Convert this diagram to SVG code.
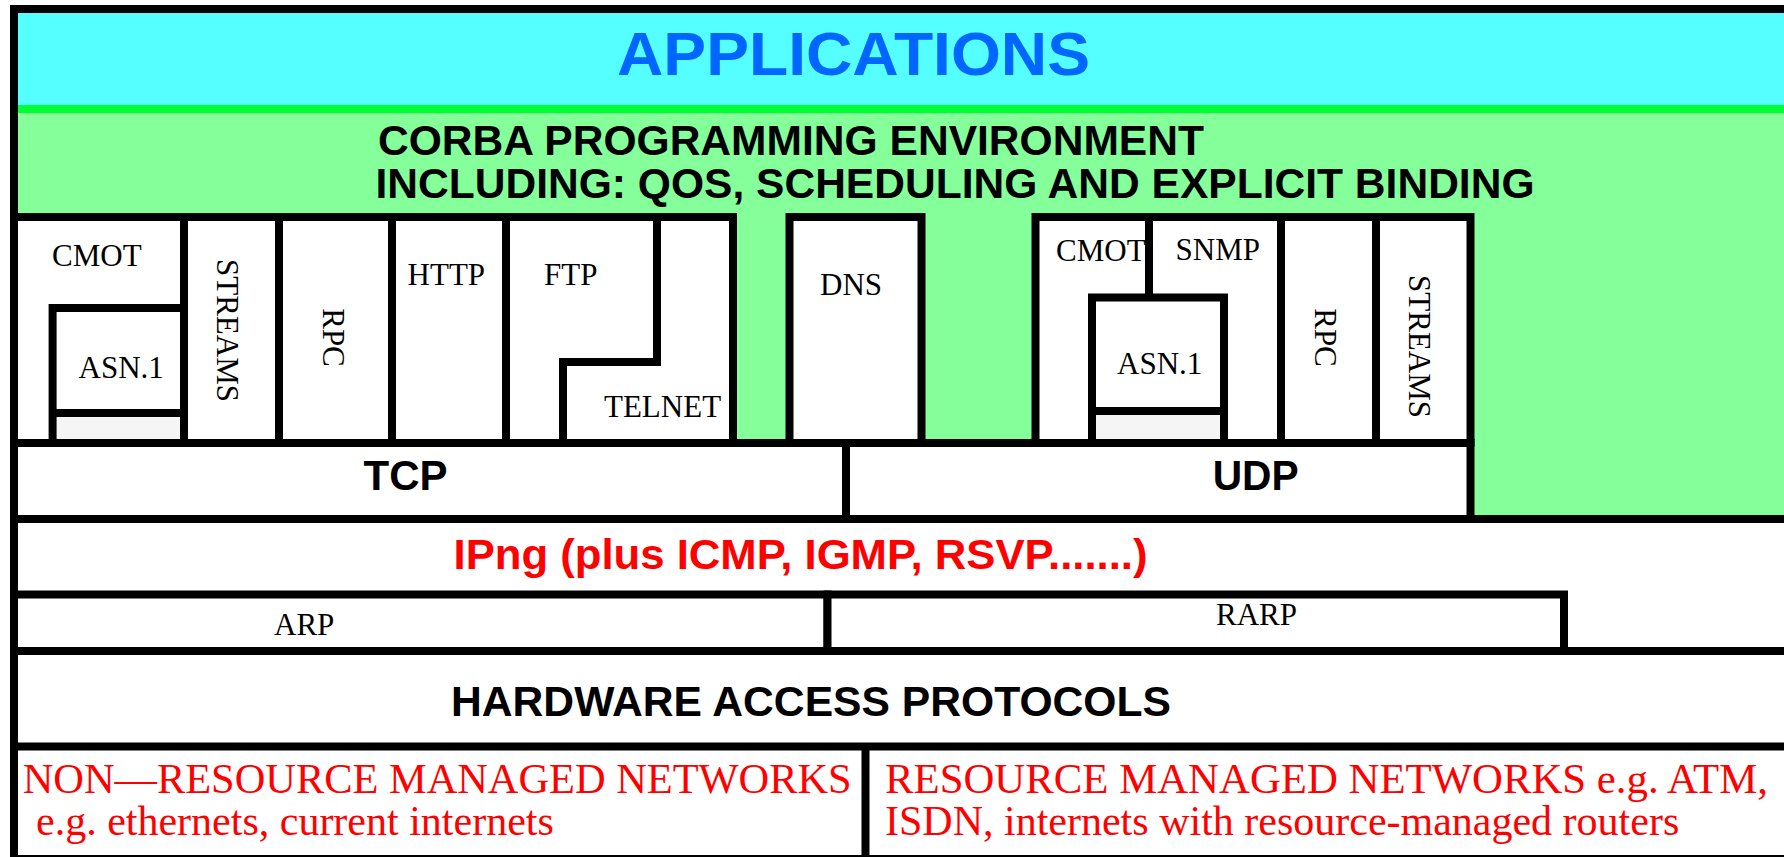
<svg xmlns="http://www.w3.org/2000/svg" width="1784" height="857" viewBox="0 0 1784 857">
<style>
.box{fill:#ffffff;stroke:#000000;stroke-width:8}
.ln{fill:none;stroke:#000000;stroke-width:8}
.gray{fill:#f5f5f5;stroke:none}
.sb{font-family:"Liberation Sans",Arial,sans-serif;font-weight:bold;font-size:42px;fill:#000000}
.tm{font-family:"Liberation Serif","Times New Roman",serif;font-size:31px;fill:#000000}
.red{fill:#ff0000}
.tr{font-family:"Liberation Serif","Times New Roman",serif;font-size:42px;fill:#ff0000}
</style>
<rect x="0" y="0" width="1784" height="857" fill="#ffffff"/>
<g id="applications">
<rect x="14" y="9" width="1780" height="100" fill="#55ffff"/>
<text x="617" y="75" font-family="Liberation Sans,Arial,sans-serif" font-weight="bold" font-size="62" fill="#0066ff" textLength="473" lengthAdjust="spacingAndGlyphs">APPLICATIONS</text>
</g>
<g id="corba">
<rect x="18" y="105" width="1770" height="8" fill="#00ff33"/>
<rect x="18" y="113" width="1770" height="406" fill="#85ff9a"/>
<text class="sb" x="378" y="155" textLength="826" lengthAdjust="spacingAndGlyphs">CORBA PROGRAMMING ENVIRONMENT</text>
<text class="sb" x="375.5" y="198" textLength="1159" lengthAdjust="spacingAndGlyphs">INCLUDING: QOS, SCHEDULING AND EXPLICIT BINDING</text>
</g>
<g id="frame">
<line class="ln" x1="10" y1="9" x2="1790" y2="9"/>
<line class="ln" x1="14" y1="5" x2="14" y2="863"/>
</g>
<g id="cmot-left">
<rect class="box" x="14" y="217" width="170" height="226"/>
<text class="tm" x="52" y="266">CMOT</text>
</g>
<g id="asn1-left">
<rect class="gray" x="56.6" y="417" width="123.4" height="22"/>
<path class="ln" d="M52.6,443 V308 H184 M52.6,413 H184"/>
<text class="tm" x="78.5" y="378">ASN.1</text>
</g>
<g id="streams-left">
<rect class="box" x="184" y="217" width="95" height="226"/>
<text class="tm" text-anchor="middle" transform="translate(217,330.5) rotate(90)">STREAMS</text>
</g>
<g id="rpc-left">
<rect class="box" x="279" y="217" width="113" height="226"/>
<text class="tm" text-anchor="middle" transform="translate(323,337.5) rotate(90)">RPC</text>
</g>
<g id="http">
<rect class="box" x="392" y="217" width="114" height="226"/>
<text class="tm" x="407.6" y="285">HTTP</text>
</g>
<g id="ftp-telnet">
<rect class="box" x="506" y="217" width="227" height="226"/>
<path class="ln" d="M657,217 V362 H563 V443"/>
<text class="tm" x="544" y="285">FTP</text>
<text class="tm" x="604" y="417">TELNET</text>
</g>
<g id="dns">
<rect class="box" x="789.5" y="217" width="132" height="226"/>
<text class="tm" x="820" y="295">DNS</text>
</g>
<g id="cmot-snmp-right">
<rect class="box" x="1035.5" y="217" width="245.5" height="226"/>
<line class="ln" x1="1149" y1="217" x2="1149" y2="297.5"/>
<text class="tm" x="1056" y="261">CMOT</text>
<text class="tm" x="1260" y="260" text-anchor="end">SNMP</text>
</g>
<g id="asn1-right">
<rect class="gray" x="1096" y="415" width="124" height="24"/>
<path class="ln" d="M1092,443 V297.5 H1224 V443 M1092,411 H1224"/>
<text class="tm" x="1117" y="374">ASN.1</text>
</g>
<g id="rpc-right">
<rect class="box" x="1281" y="217" width="95" height="226"/>
<text class="tm" text-anchor="middle" transform="translate(1315,337.5) rotate(90)">RPC</text>
</g>
<g id="streams-right">
<rect class="box" x="1376" y="217" width="94.5" height="226"/>
<text class="tm" text-anchor="middle" transform="translate(1409,346.5) rotate(90)">STREAMS</text>
</g>
<g id="tcp">
<rect class="box" x="14" y="443" width="832" height="76"/>
<text class="sb" x="363.6" y="490" textLength="84" lengthAdjust="spacingAndGlyphs">TCP</text>
</g>
<g id="udp">
<rect class="box" x="846" y="443" width="624.5" height="76"/>
<text class="sb" x="1212.7" y="490" textLength="86" lengthAdjust="spacingAndGlyphs">UDP</text>
</g>
<g id="ipng">
<line class="ln" x1="14" y1="519" x2="1790" y2="519"/>
<text class="sb red" x="453.5" y="569" textLength="694" lengthAdjust="spacingAndGlyphs">IPng (plus ICMP, IGMP, RSVP.......)</text>
</g>
<g id="arp">
<rect class="box" x="14" y="594.5" width="813.5" height="56.5"/>
<text class="tm" x="274" y="635">ARP</text>
</g>
<g id="rarp">
<rect class="box" x="827.5" y="594.5" width="736.5" height="56.5"/>
<text class="tm" x="1216" y="625">RARP</text>
</g>
<g id="hardware">
<line class="ln" x1="14" y1="651" x2="1790" y2="651"/>
<line class="ln" x1="14" y1="746.5" x2="1790" y2="746.5"/>
<text class="sb" x="451" y="716" textLength="720" lengthAdjust="spacingAndGlyphs">HARDWARE ACCESS PROTOCOLS</text>
</g>
<g id="non-resource-managed">
<text class="tr" x="22.7" y="793" textLength="829" lengthAdjust="spacingAndGlyphs">NON—RESOURCE MANAGED NETWORKS</text>
<text class="tr" x="36" y="835">e.g. ethernets, current internets</text>
</g>
<g id="resource-managed">
<line class="ln" x1="865.5" y1="746.5" x2="865.5" y2="863"/>
<text class="tr" x="885" y="793" textLength="883" lengthAdjust="spacingAndGlyphs">RESOURCE MANAGED NETWORKS e.g. ATM,</text>
<text class="tr" x="885" y="835">ISDN, internets with resource-managed routers</text>
</g>
<g id="bottom-frame">
<line class="ln" x1="10" y1="859" x2="1790" y2="859"/>
</g>
</svg>
